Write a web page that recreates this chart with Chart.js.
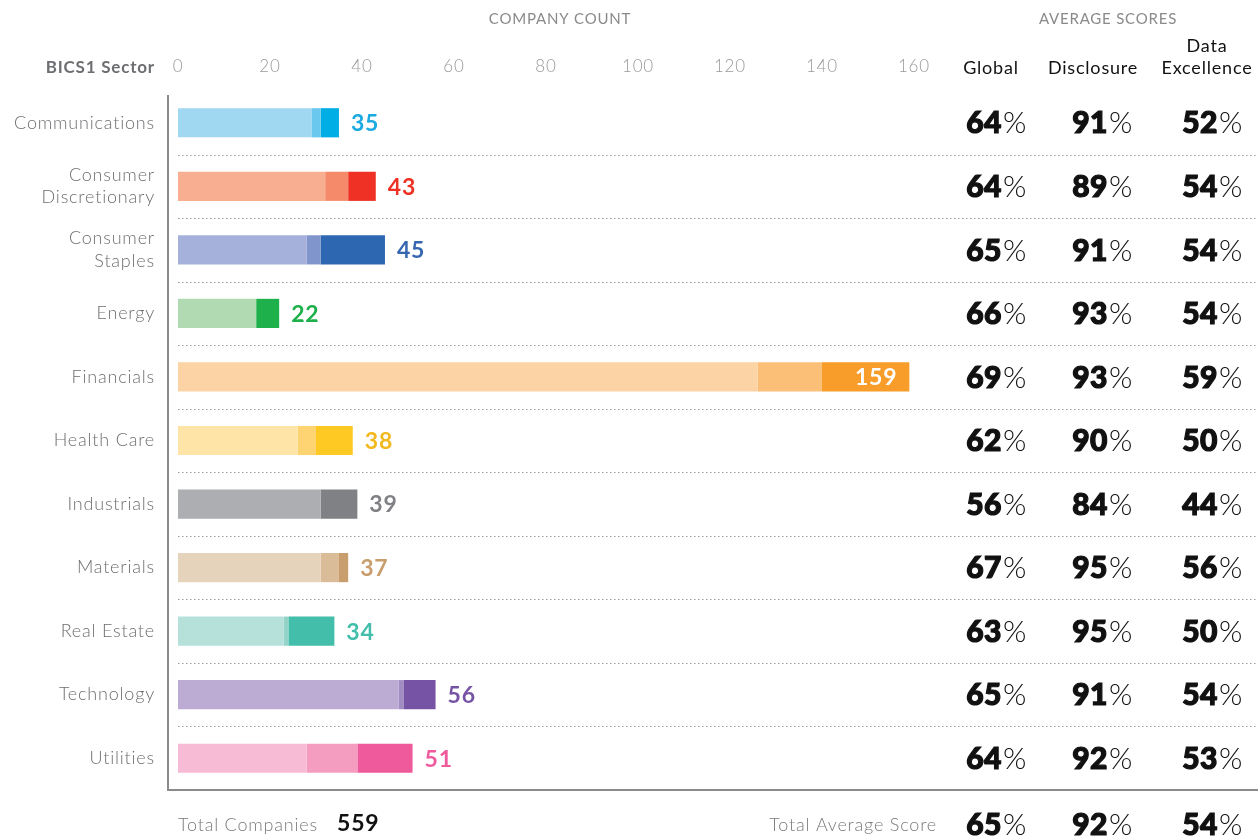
<!DOCTYPE html>
<html>
<head>
<meta charset="utf-8">
<script src="https://cdn.jsdelivr.net/npm/chart.js@4.4.1/dist/chart.umd.min.js"></script>
<style>
  html, body { margin: 0; padding: 0; background: #fff; }
</style>
</head>
<body>
<canvas id="sector_chart" width="1258" height="837"></canvas>
<script>

///////////   DATA  /////////////////

const sectorLabels = ["Communications", ["Consumer", "Discretionary"], ["Consumer", "Staples"], "Energy", "Financials",
  "Health Care", "Industrials", "Materials", "Real Estate", "Technology", "Utilities"];

// company count split in three shades per sector
const lightCounts = [29, 32, 28, 17, 126, 26, 31, 31, 23, 48, 28];
const midCounts   = [2, 5, 3, 0, 14, 4, 0, 4, 1, 1, 11];
const darkCounts  = [4, 6, 14, 5, 19, 8, 8, 2, 10, 7, 12];
const totals      = [35, 43, 45, 22, 159, 38, 39, 37, 34, 56, 51];

const countTicks = [0, 20, 40, 60, 80, 100, 120, 140, 160];

const globalScores     = [64, 64, 65, 66, 69, 62, 56, 67, 63, 65, 64];
const disclosureScores = [91, 89, 91, 93, 93, 90, 84, 95, 95, 91, 92];
const dataExScores     = [52, 54, 54, 54, 59, 50, 44, 56, 50, 54, 53];
const totalScores      = [65, 92, 54];
const totalCompanies   = 559;

///////////   COLOURS  /////////////////

const lightColors = ["#a0d8f1", "#f8ae91", "#a5b1da", "#b2dab2", "#fcd3a4", "#fee4a6", "#adaeb2", "#e5d3bb", "#b6e1da", "#bcabd3", "#f7bbd5"];
const midColors   = ["#6ac8ee", "#f48a69", "#7f95cb", "#8fcc8f", "#fbbf78", "#fed472", "#97989c", "#dbbc98", "#94d4c8", "#a28cc4", "#f49dc1"];
const darkColors  = ["#00aee6", "#ee3124", "#2e67b1", "#1db04b", "#f99d2a", "#fec923", "#808185", "#c99e6e", "#43beaa", "#7653a4", "#ef5a9d"];
const labelColors = ["#1aa9e0", "#ee3124", "#3467b0", "#1db04b", "#ffffff", "#f2b91e", "#808185", "#c99e6e", "#43beaa", "#7653a4", "#ef5a9d"];

const FONT = "Lato, 'Open Sans', sans-serif";
const SPACING = "0.8px";
const scoreCols = [996, 1102, 1212];

////////////// helpers /////////////

function drawPct(ctx, value, cx, y, size) {
  ctx.letterSpacing = "0.5px";
  ctx.font = "900 " + size + "px " + FONT;
  const w1 = ctx.measureText(String(value)).width;
  ctx.font = "300 " + size + "px " + FONT;
  const w2 = ctx.measureText("%").width;
  const x0 = cx - (w1 + w2) / 2;
  ctx.textAlign = "left";
  ctx.textBaseline = "middle";
  ctx.fillStyle = "#111";
  ctx.strokeStyle = "#111";
  ctx.lineWidth = 1.2;
  ctx.font = "900 " + size + "px " + FONT;
  ctx.fillText(String(value), x0, y);
  ctx.strokeText(String(value), x0, y);
  ctx.font = "300 " + size + "px " + FONT;
  ctx.fillText("%", x0 + w1 + 1, y);
  ctx.letterSpacing = SPACING;
}

////////////// extras plugin /////////////

const extras = {
  id: "extras",
  beforeDraw(chart) {
    chart.ctx.letterSpacing = SPACING;
  },
  beforeDatasetsDraw(chart) {
    const ctx = chart.ctx;
    const y = chart.scales.y;
    const area = chart.chartArea;
    ctx.save();
    // dotted separators between rows
    ctx.strokeStyle = "#9a9a9a";
    ctx.lineWidth = 1;
    ctx.setLineDash([1.5, 2.5]);
    for (let i = 1; i < sectorLabels.length; i += 1) {
      const yy = Math.round((y.getPixelForValue(i - 1) + y.getPixelForValue(i)) / 2) + 0.5;
      ctx.beginPath();
      ctx.moveTo(178, yy);
      ctx.lineTo(area.right, yy);
      ctx.stroke();
    }
    ctx.setLineDash([]);
    // frame: left and bottom
    ctx.strokeStyle = "#8a8a8a";
    ctx.lineWidth = 2;
    ctx.beginPath();
    ctx.moveTo(area.left, area.top + 4);
    ctx.lineTo(area.left, area.bottom);
    ctx.lineTo(area.right, area.bottom);
    ctx.stroke();
    ctx.restore();
  },
  afterDraw(chart) {
    const ctx = chart.ctx;
    const x = chart.scales.x;
    const y = chart.scales.y;
    const area = chart.chartArea;
    ctx.save();
    ctx.letterSpacing = SPACING;

    // totals next to bars + score table
    ctx.textBaseline = "middle";
    for (let i = 0; i < totals.length; i += 1) {
      const yy = y.getPixelForValue(i) + 1;
      const xEnd = x.getPixelForValue(totals[i]);
      ctx.font = "bold 23px " + FONT;
      ctx.fillStyle = labelColors[i];
      if (totals[i] > 120) {
        ctx.textAlign = "right";
        ctx.fillText(String(totals[i]), xEnd - 12, yy);
      } else {
        ctx.textAlign = "left";
        ctx.fillText(String(totals[i]), xEnd + 12, yy);
      }
      drawPct(ctx, globalScores[i], scoreCols[0], yy, 30);
      drawPct(ctx, disclosureScores[i], scoreCols[1], yy, 30);
      drawPct(ctx, dataExScores[i], scoreCols[2], yy, 30);
    }

    // headers
    ctx.textAlign = "center";
    ctx.textBaseline = "middle";
    ctx.fillStyle = "#8a8a8a";
    ctx.font = "15px " + FONT;
    ctx.fillText("COMPANY COUNT", 560, 19);
    ctx.fillText("AVERAGE SCORES", 1108, 19);

    ctx.fillStyle = "#111";
    ctx.font = "18px " + FONT;
    ctx.fillText("Global", 991, 68);
    ctx.fillText("Disclosure", 1093, 68);
    ctx.fillText("Data", 1207, 46);
    ctx.fillText("Excellence", 1207, 68);

    ctx.textAlign = "right";
    ctx.fillStyle = "#6d6e71";
    ctx.font = "bold 17px " + FONT;
    ctx.fillText("BICS1 Sector", 155, 68);

    // footer
    const fy = area.bottom + 35;
    ctx.textAlign = "left";
    ctx.fillStyle = "#7a7a7a";
    ctx.font = "300 18px " + FONT;
    ctx.fillText("Total Companies", 178, fy);
    ctx.fillStyle = "#111";
    ctx.font = "bold 23px " + FONT;
    ctx.fillText(String(totalCompanies), 337, fy - 1);

    ctx.textAlign = "right";
    ctx.fillStyle = "#7a7a7a";
    ctx.font = "300 18px " + FONT;
    ctx.fillText("Total Average Score", 937, fy);
    for (let c = 0; c < totalScores.length; c += 1) {
      drawPct(ctx, totalScores[c], scoreCols[c], fy, 30);
    }
    ctx.restore();
  }
};

////////////// BAR CHART /////////////

new Chart(document.querySelector("#sector_chart"), {
  type: "bar",
  data: {
    labels: sectorLabels,
    datasets: [
      { data: lightCounts, backgroundColor: lightColors },
      { data: midCounts, backgroundColor: midColors },
      { data: darkCounts, backgroundColor: darkColors }
    ]
  },
  options: {
    indexAxis: "y",
    responsive: false,
    animation: false,
    layout: { padding: { top: 0, right: 0, bottom: 47, left: 0 } },
    datasets: {
      bar: { barPercentage: 0.9, categoryPercentage: 0.51, borderWidth: 0 }
    },
    plugins: {
      legend: { display: false },
      tooltip: { enabled: false },
      title: { display: false }
    },
    scales: {
      x: {
        position: "top",
        stacked: true,
        min: -2.17,
        max: 234.8,
        afterBuildTicks: (scale) => { scale.ticks = countTicks.map(v => ({ value: v })); },
        afterFit: (scale) => { scale.height = 91; },
        grid: { display: false, drawTicks: false },
        border: { display: false },
        ticks: {
          color: "#9a9a9a",
          font: { family: FONT, size: 17, weight: "300" },
          padding: 14,
          maxRotation: 0,
          autoSkip: false
        }
      },
      y: {
        stacked: true,
        afterFit: (scale) => { scale.width = 168; },
        grid: { display: false, drawTicks: false },
        border: { display: false },
        ticks: {
          color: "#6d6e71",
          font: { family: FONT, size: 18, weight: "300", lineHeight: 1.25 },
          padding: 13
        }
      }
    }
  },
  plugins: [extras]
});
</script>
</body>
</html>
